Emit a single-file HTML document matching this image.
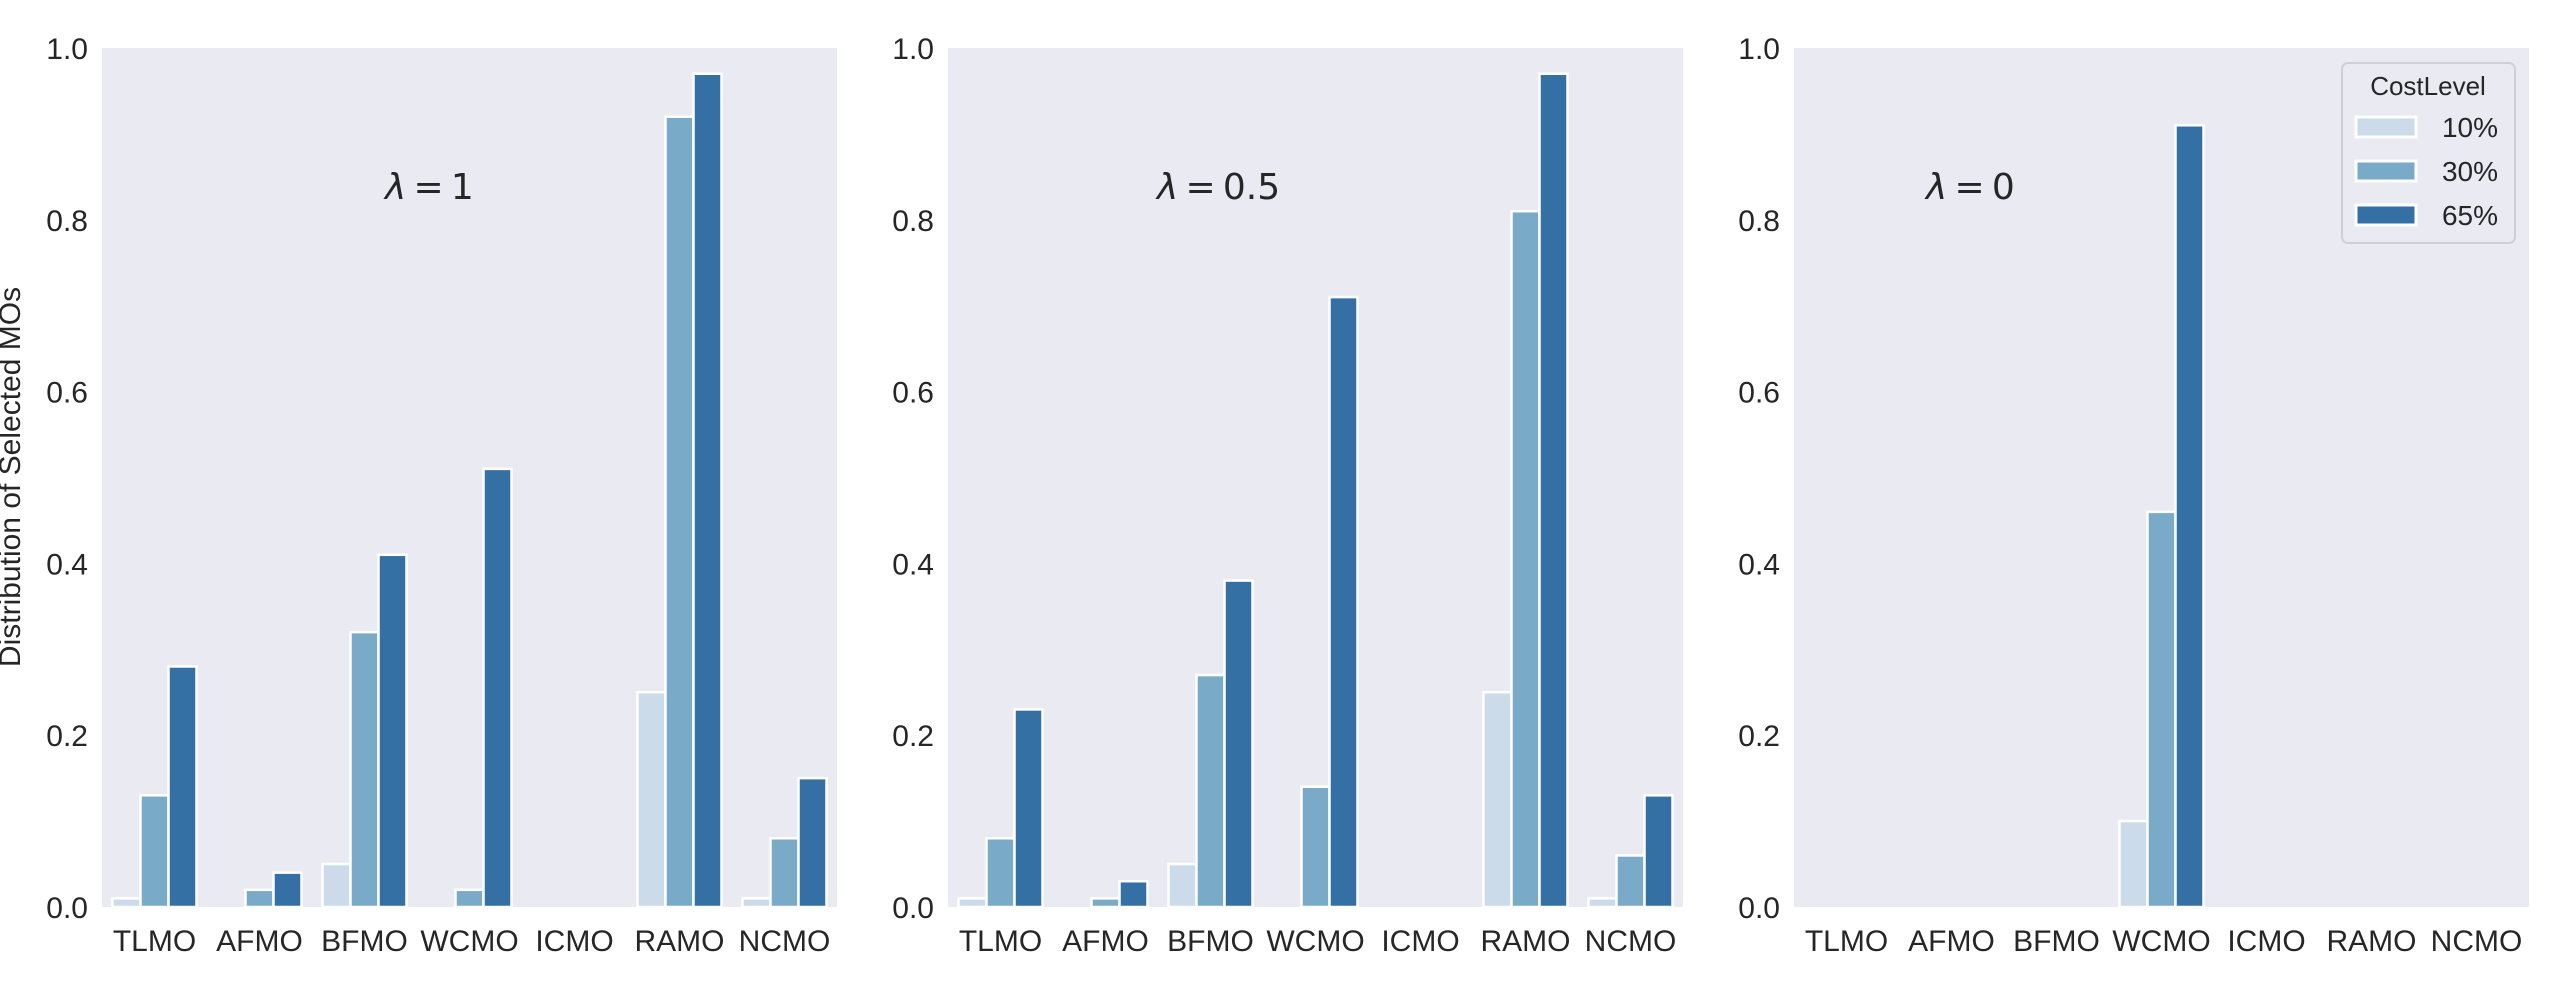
<!DOCTYPE html>
<html><head><meta charset="utf-8"><style>
body{margin:0;background:#fff}
svg text{font-family:"Liberation Sans","DejaVu Sans",sans-serif;fill:#262626}
</style></head><body>
<svg id="chart" width="2564" height="993" xmlns="http://www.w3.org/2000/svg"></svg>
<script>
const categories=["TLMO","AFMO","BFMO","WCMO","ICMO","RAMO","NCMO"];
const levels=["10%","30%","65%"];
const panelLabels=["1","0.5","0"];
const p1_10=[0.01,0,0.05,0,0,0.25,0.01];
const p1_30=[0.13,0.02,0.32,0.02,0,0.92,0.08];
const p1_65=[0.28,0.04,0.41,0.51,0,0.97,0.15];
const p2_10=[0.01,0,0.05,0,0,0.25,0.01];
const p2_30=[0.08,0.01,0.27,0.14,0,0.81,0.06];
const p2_65=[0.23,0.03,0.38,0.71,0,0.97,0.13];
const p3_10=[0,0,0,0.10,0,0,0];
const p3_30=[0,0,0,0.46,0,0,0];
const p3_65=[0,0,0,0.91,0,0,0];
const yTicks=[0,0.2,0.4,0.6,0.8,1.0];
const yTickLabels=["0.0","0.2","0.4","0.6","0.8","1.0"];

const panels=[[p1_10,p1_30,p1_65],[p2_10,p2_30,p2_65],[p3_10,p3_30,p3_65]];
const colors=["#cbdbe9","#79aac8","#3470a3"];
const lambdaX=[385,1157,1926];
const NS="http://www.w3.org/2000/svg";
const svg=document.getElementById('chart');
function mk(tag,attrs,parent){const e=document.createElementNS(NS,tag);for(const k in attrs)e.setAttribute(k,attrs[k]);(parent||svg).appendChild(e);return e;}
const plotTop=48,plotBottom=907,H=plotBottom-plotTop,W=735;
const lefts=[102,948,1794];
function yScale(v){return plotBottom-v*H;}
panels.forEach((series,pi)=>{
  const L=lefts[pi];
  const g=mk('g',{});
  
  
  const bg=mk('rect',{x:L,y:plotTop,width:W,height:H,fill:'#eaeaf2'},g);
  
  
  const gw=W/categories.length, bw=gw*0.8/levels.length;
  function xScale(ci,si){return L+ci*gw+gw*0.1+si*bw;}
  series.forEach((vals,si)=>{
    vals.forEach((v,ci)=>{
      const y=yScale(v);
      const r=mk('rect',{x:xScale(ci,si),y:y,width:bw,height:plotBottom-y,fill:colors[si],stroke:'#fff','stroke-width':2.5},g);
      
      
    });
  });
  yTicks.forEach((t,i)=>{
    const tx=mk('text',{x:L-14,y:yScale(t)+11,'text-anchor':'end','font-size':30},g);
    tx.textContent=yTickLabels[i];
    
    
  });
  categories.forEach((c,ci)=>{
    const tx=mk('text',{x:L+ci*gw+gw/2,y:951,'text-anchor':'middle','font-size':30},g);
    tx.textContent=c;
    
    
  });
  const lam=mk('text',{x:lambdaX[pi],y:199,'font-size':36,style:'font-family:"DejaVu Sans",sans-serif'},g);
  const ls=mk('tspan',{'font-style':'italic'},lam);
  ls.textContent='λ';
  const rest=mk('tspan',{},lam);
  rest.textContent='\u2009=\u2009'+panelLabels[pi];
  
  
});
const yt=mk('text',{x:0,y:0,'text-anchor':'middle','font-size':30,transform:'translate(20,477) rotate(-90)'});
yt.textContent='Distribution of Selected MOs';


const lg=mk('g',{});


mk('rect',{x:2342,y:63,width:173,height:180,rx:6,fill:'#eaeaf2',stroke:'#d0d0d4','stroke-width':2},lg);
const legTitle=mk('text',{x:2428,y:95,'text-anchor':'middle','font-size':26},lg);
legTitle.textContent='CostLevel';


levels.forEach((l,i)=>{
  const cy=127+i*44;
  const r=mk('rect',{x:2356,y:cy-10,width:60,height:20,fill:colors[i],stroke:'#fff','stroke-width':3},lg);
  
  
  const t=mk('text',{x:2498,y:cy+10,'text-anchor':'end','font-size':28},lg);
  t.textContent=l;
  
  
});
</script>
</body></html>
